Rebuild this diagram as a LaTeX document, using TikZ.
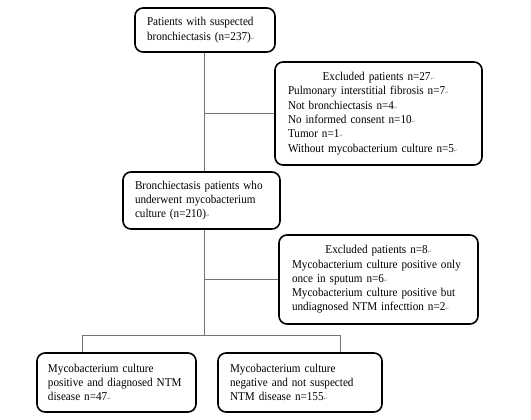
\documentclass[tikz,border=0pt]{standalone}
\usepackage{fontspec}
\setmainfont[FakeStretch=0.93,WordSpace={0.55}]{Liberation Serif}
\newfontfamily\symfont{DejaVu Sans}
\usetikzlibrary{positioning}
\definecolor{linegray}{rgb}{0.45,0.45,0.45}
\newcommand{\pmark}{{\symfont\fontsize{4.5}{5}\selectfont\color{gray}↵}}
\newcommand{\headline}[1]{\makebox[\linewidth][c]{#1}}

\begin{document}
\begin{tikzpicture}[x=1pt,y=-1pt,semithick,
        every node/.style={font=\fontsize{12}{14.3}\selectfont}]
        \tikzstyle{flowbox}=[draw=black,line width=1.6pt,rounded corners=8pt,align=left,
          inner xsep=12pt,inner ysep=0pt,fill=white]
        \tikzstyle{link}=[draw=linegray,line width=0.8pt]
        \useasboundingbox (0,0) rectangle (531,420);
        \node[flowbox,minimum width=140pt,minimum height=44pt,text width=116pt](suspected) at (205,30)
          {Patients with suspected\\bronchiectasis (n=237)\pmark};
        \node[flowbox,minimum width=207pt,minimum height=103pt,text width=181pt,inner xsep=13pt](excludedA) at (378.5,113.5)
          {\headline{Excluded patients n=27\pmark}\\Pulmonary interstitial fibrosis n=7\pmark\\Not bronchiectasis n=4\pmark\\No informed consent n=10\pmark\\Tumor n=1\pmark\\Without mycobacterium culture n=5\pmark};
        \node[flowbox,minimum width=157pt,minimum height=57pt,text width=133pt](cultured) at (201.5,200.5)
          {Bronchiectasis patients who\\underwent mycobacterium\\culture (n=210)\pmark};
        \node[flowbox,minimum width=199pt,minimum height=89pt,text width=173pt,inner xsep=13pt](excludedB) at (378.5,279.5)
          {\headline{Excluded patients n=8\pmark}\\Mycobacterium culture positive only\\once in sputum n=6\pmark\\Mycobacterium culture positive but\\undiagnosed NTM infecttion n=2\pmark};
        \node[flowbox,minimum width=159pt,minimum height=59pt,text width=137pt,inner xsep=11pt](positive) at (116.5,382.5)
          {Mycobacterium culture\\positive and diagnosed NTM\\disease n=47\pmark};
        \node[flowbox,minimum width=164pt,minimum height=59pt,text width=140pt](negative) at (300,382.5)
          {Mycobacterium culture\\negative and not suspected\\NTM disease n=155\pmark};

        \coordinate (split) at (204,335);
        \coordinate (splitL) at (82,335);
        \coordinate (splitR) at (340,335);
        \begin{scope}[on background layer/.try]
        \path[link] (suspected.south -| split) -- (cultured.north -| split);
        \path[link] (suspected.south -| split) |- (excludedA.west);
        \path[link] (cultured.south -| split) -- (split);
        \path[link] (split |- excludedB.west) -- (excludedB.west);
        \path[link] (splitL) -- (splitR);
        \path[link] (splitL) -- (positive.north -| splitL);
        \path[link] (splitR) -- (negative.north -| splitR);
        \end{scope}
      \end{tikzpicture}
\end{document}
